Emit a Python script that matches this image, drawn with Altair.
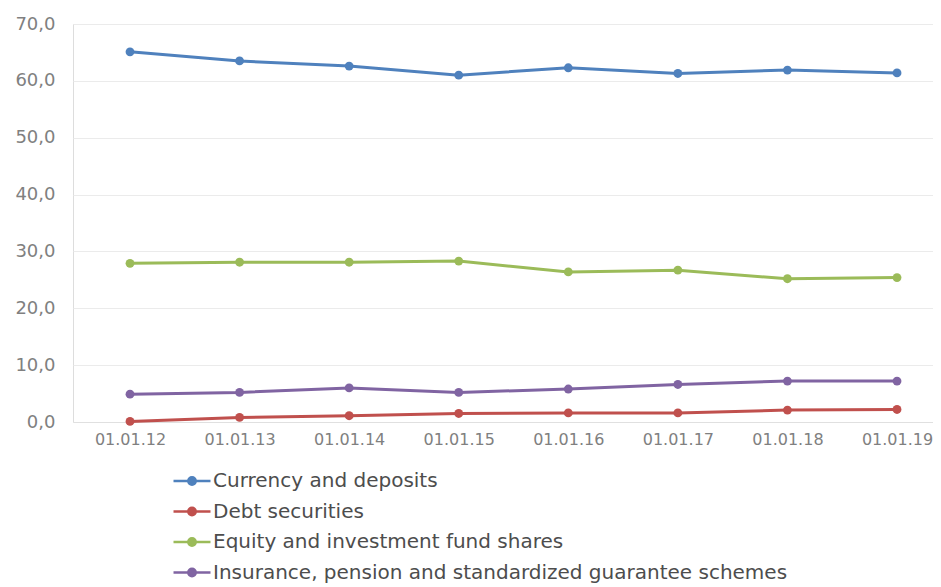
import altair as alt
import pandas as pd

dates = ["01.01.12", "01.01.13", "01.01.14", "01.01.15", "01.01.16", "01.01.17", "01.01.18", "01.01.19"]
series_names = [
    "Currency and deposits",
    "Debt securities",
    "Equity and investment fund shares",
    "Insurance, pension and standardized guarantee schemes",
]
currency = [65.1, 63.5, 62.6, 61.0, 62.3, 61.3, 61.9, 61.4]
debt = [0.1, 0.8, 1.1, 1.5, 1.6, 1.6, 2.1, 2.2]
equity = [27.9, 28.1, 28.1, 28.3, 26.4, 26.7, 25.2, 25.4]
insurance = [4.9, 5.2, 6.0, 5.2, 5.8, 6.6, 7.2, 7.2]
colors = ["#4F81BD", "#C0504D", "#9BBB59", "#8064A2"]

rows = []
for name, vals in zip(series_names, [currency, debt, equity, insurance]):
    for d, v in zip(dates, vals):
        rows.append({"date": d, "series": name, "value": v})
df = pd.DataFrame(rows)

FONT = "DejaVu Sans"
LABEL_GRAY = "#808080"

color = alt.Color(
    "series:N",
    scale=alt.Scale(domain=series_names, range=colors),
    legend=alt.Legend(
        title=None,
        orient="none",
        legendX=109,
        legendY=447,
        direction="vertical",
        symbolType="M-3,0L3,0M0.6,0A0.6,0.6 0 1,1 -0.6,0A0.6,0.6 0 1,1 0.6,0Z",
        symbolSize=152,
        symbolStrokeWidth=2.5,
        labelFont=FONT,
        labelFontSize=20,
        labelColor="#4d4d4d",
        labelOffset=11,
        rowPadding=10.5,
        labelLimit=700,
    ),
)

x = alt.X(
    "date:N",
    sort=dates,
    scale=alt.Scale(type="point", padding=0.4244, align=0.613),
    axis=alt.Axis(
        title=None,
        labelAngle=0,
        labelFont=FONT,
        labelFontSize=16,
        labelColor=LABEL_GRAY,
        labelPadding=9,
        ticks=False,
        grid=False,
        domainColor="#e0e0e0",
        domainWidth=1,
    ),
)
y = alt.Y(
    "value:Q",
    scale=alt.Scale(domain=[0, 70], nice=False),
    axis=alt.Axis(
        title=None,
        values=[0, 10, 20, 30, 40, 50, 60, 70],
        labelExpr="replace(format(datum.value, '.1f'), '.', ',')",
        labelFont=FONT,
        labelFontSize=18,
        labelColor=LABEL_GRAY,
        labelPadding=18,
        ticks=False,
        domain=False,
        gridColor="#ebebeb",
        gridWidth=1,
    ),
)

lines = alt.Chart(df).mark_line(strokeWidth=3).encode(x=x, y=y, color=color)
points = alt.Chart(df).mark_circle(size=78, opacity=1).encode(
    x=x,
    y=y,
    color=alt.Color("series:N", scale=alt.Scale(domain=series_names, range=colors), legend=None),
)

chart = (
    alt.layer(lines, points)
    .properties(
        width=860,
        height=398,
        autosize=alt.AutoSizeParams(type="none"),
        padding={"left": 65, "top": 16, "right": 0, "bottom": 165},
    )
    .configure_view(stroke=None)
    .configure(background="white")
)

chart.save("out.html", embed_options={"renderer": "svg", "actions": False})
